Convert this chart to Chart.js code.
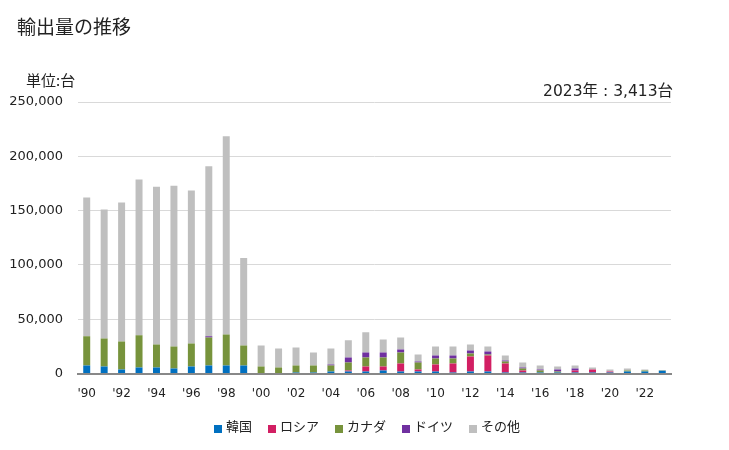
<!DOCTYPE html>
<html>
<head>
<meta charset="utf-8">
<script src="https://cdn.jsdelivr.net/npm/chart.js@4.4.0/dist/chart.umd.min.js"></script>
<style>
  html, body { margin: 0; padding: 0; background: #fff; }
  #wrap { width: 729px; height: 450px; position: relative; }
</style>
</head>
<body>
<div id="wrap"><canvas id="chart"></canvas></div>
<script>
// years 1990-2023
const years = [];
for (let y = 1990; y <= 2023; y++) years.push("'" + String(y).slice(2));

const korea   = [7400, 6500, 3700, 5600, 5600, 4600, 6500, 7400, 7400, 7400, 0, 0, 1000, 1000, 1900, 1900, 1900, 2800, 1900, 1900, 1900, 900, 1900, 1900, 900, 900, 900, 900, 900, 900, 900, 1900, 1900, 2600];
const russia  = [0, 0, 0, 0, 0, 0, 0, 0, 0, 0, 0, 0, 0, 0, 0, 900, 4600, 3700, 7400, 1800, 6400, 8400, 13800, 14800, 8400, 1900, 0, 0, 1900, 2800, 1000, 0, 0, 0];
const canada  = [26900, 25900, 25900, 29600, 21300, 20400, 21300, 25900, 28700, 18500, 6500, 5600, 6400, 6400, 5500, 7400, 8300, 8300, 10100, 6500, 5600, 4600, 2800, 900, 1800, 1800, 1900, 1000, 0, 0, 0, 900, 900, 300];
const germany = [0, 0, 0, 0, 0, 0, 0, 1000, 0, 0, 0, 0, 0, 0, 900, 4600, 4600, 4600, 2800, 900, 2800, 2800, 2800, 2800, 900, 1000, 900, 1800, 1800, 0, 0, 0, 0, 0];
const others  = [127700, 118600, 127800, 143500, 145100, 148000, 140700, 156500, 182400, 80600, 19400, 17500, 16600, 12000, 14800, 15800, 18600, 12100, 11100, 6500, 8300, 8300, 5600, 4600, 4700, 4600, 3700, 2800, 2800, 1900, 1800, 1800, 900, 513];

const yTicks = [0, 50000, 100000, 150000, 200000, 250000];

const jp = "'Noto Sans CJK JP', sans-serif";
const num = "'DejaVu Sans', 'Noto Sans CJK JP', sans-serif";

// title, unit, latest value and legend drawn by hand
const textPlugin = {
    id: 'texts',
    afterDraw(chart) {
        const ctx = chart.ctx;
        ctx.save();
        ctx.fillStyle = '#222';
        ctx.textBaseline = 'middle';
        ctx.textAlign = 'left';
        ctx.font = '19px ' + jp;
        ctx.fillText('輸出量の推移', 17, 27);
        ctx.font = '15px ' + jp;
        ctx.fillText('単位:台', 26, 80);
        ctx.font = '15.5px ' + num;
        ctx.textAlign = 'right';
        ctx.fillText('2023年 : 3,413台', 673, 92);

        // legend
        ctx.font = '13px ' + jp;
        ctx.textAlign = 'left';
        const box = 8, gap = 4, space = 16;
        const items = chart.data.datasets.map(d => ({ label: d.label, color: d.backgroundColor, w: ctx.measureText(d.label).width }));
        let total = 0;
        items.forEach((it, i) => { total += box + gap + it.w + (i < items.length - 1 ? space : 0); });
        let x = 367 - total / 2;
        const cy = 426;
        items.forEach(it => {
            ctx.fillStyle = it.color;
            ctx.fillRect(x, cy - 1, box, box);
            ctx.fillStyle = '#222';
            ctx.fillText(it.label, x + box + gap, cy);
            x += box + gap + it.w + space;
        });
        ctx.restore();
    }
};

function ds(label, data, color) {
    return { label: label, data: data, backgroundColor: color, borderWidth: 0,
             categoryPercentage: 1.0, barPercentage: 0.4 };
}

new Chart(document.getElementById('chart'), {
    type: 'bar',
    data: {
        labels: years,
        datasets: [
            ds('韓国', korea, '#0070c0'),
            ds('ロシア', russia, '#d21f63'),
            ds('カナダ', canada, '#77933c'),
            ds('ドイツ', germany, '#7030a0'),
            ds('その他', others, '#bfbfbf')
        ]
    },
    options: {
        responsive: true,
        maintainAspectRatio: false,
        animation: false,
        layout: { padding: { top: 102, right: 58, bottom: 36, left: 0 } },
        plugins: {
            tooltip: { enabled: false },
            legend: { display: false }
        },
        scales: {
            x: {
                stacked: true,
                grid: { display: false, drawTicks: false },
                border: { color: '#888', width: 2 },
                ticks: {
                    autoSkip: false, maxRotation: 0, padding: 13, color: '#222',
                    font: { family: num, size: 12 },
                    callback: function (v, i) { return i % 2 == 0 ? this.getLabelForValue(v) : ''; }
                }
            },
            y: {
                stacked: true,
                min: 0, max: 250000,
                afterFit(scale) { scale.width = 78; },
                afterBuildTicks(scale) { scale.ticks = yTicks.map(v => ({ value: v })); },
                grid: { color: '#d9d9d9', lineWidth: 1, drawTicks: false },
                border: { display: false },
                ticks: {
                    padding: 15, color: '#222',
                    font: { family: num, size: 13 },
                    callback: v => v.toLocaleString('en-US')
                }
            }
        }
    },
    plugins: [textPlugin]
});
</script>
</body>
</html>
